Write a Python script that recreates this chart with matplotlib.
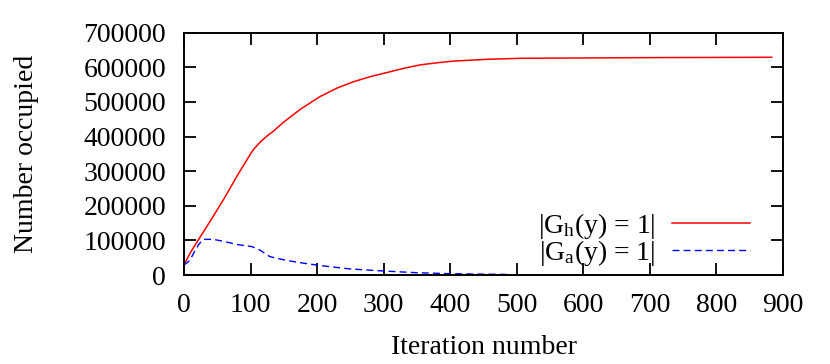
import matplotlib
matplotlib.use('Agg')
import matplotlib.pyplot as plt

# data
gh_iter = [0, 10, 20, 30, 44, 60, 80, 100, 105, 115, 125, 134, 150, 175, 204, 230,
           254, 280, 305, 330, 355, 380, 405, 455, 505, 600, 700, 800, 883]
gh_count = [30000, 66000, 97000, 127000, 170000, 220000, 287000, 350000, 364000,
            385000, 402000, 415000, 442000, 479000, 515000, 540000, 558000, 573000,
            585000, 597000, 607000, 613000, 618000, 623000, 626000, 627000, 628000,
            628500, 629000]

ga_iter = [0, 5, 9, 15, 22, 29, 44, 60, 80, 102, 114, 129, 145, 159, 180, 199, 219,
           250, 300, 350, 400, 450, 490]
ga_count = [29000, 36000, 43000, 65000, 88000, 103000, 103000, 97000, 88000, 82000,
            72000, 53000, 46000, 40500, 34000, 29000, 24000, 17500, 11500, 6600,
            3800, 2500, 1500]

x_ticks = [0, 100, 200, 300, 400, 500, 600, 700, 800, 900]
y_ticks = [0, 100000, 200000, 300000, 400000, 500000, 600000, 700000]

plt.rcParams['font.family'] = ['Liberation Serif', 'DejaVu Serif']
plt.rcParams['mathtext.fontset'] = 'custom'
plt.rcParams['mathtext.rm'] = 'Liberation Serif'
plt.rcParams['mathtext.it'] = 'Liberation Serif:italic'

fs = 20

fig = plt.figure(figsize=(8.3, 3.64), dpi=100)
ax = fig.add_axes([0.2217, 0.2445, 0.7217, 0.6657])

ax.plot(gh_iter, gh_count, color='#ff0000', lw=1.1, label='|G$_\\mathrm{h}$(y) = 1|')
ax.plot(ga_iter, ga_count, color='#0000ff', lw=1.0, dashes=(5, 3),
        label='|G$_\\mathrm{a}$(y) = 1|')

ax.set_xlim(0, 900)
ax.set_ylim(0, 700000)
ax.set_xticks(x_ticks)
ax.set_yticks(y_ticks)
ax.set_xticklabels([str(v) for v in x_ticks])
ax.set_yticklabels([str(v) for v in y_ticks])

ax.tick_params(direction='in', length=8.5, width=1.3, labelsize=fs,
               top=True, right=True)
ax.tick_params(axis='x', pad=13)
ax.tick_params(axis='y', pad=13)
for s in ax.spines.values():
    s.set_linewidth(1.4)

ax.set_xlabel('Iteration number', fontsize=fs, labelpad=12)
ax.set_ylabel('Number occupied', fontsize=fs, labelpad=32)

ax.legend(loc='lower right', bbox_to_anchor=(0.945, 0.03), frameon=False,
          markerfirst=False, fontsize=fs, handlelength=2.8, handletextpad=0.6,
          labelspacing=-0.1, borderaxespad=0, borderpad=0)

fig.savefig('out.png', dpi=100)
